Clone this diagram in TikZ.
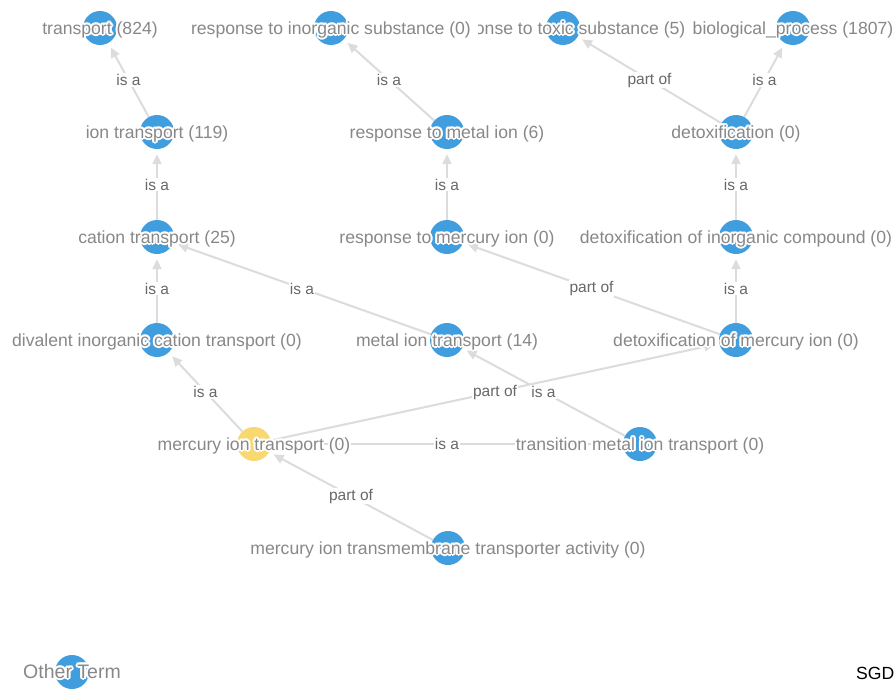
\documentclass[tikz,border=0pt]{standalone}
\usepackage{fontspec}
\setmainfont{Liberation Sans}
\usetikzlibrary{arrows.meta,calc}
\pgfdeclarelayer{bg}
\pgfsetlayers{bg,main}
\definecolor{termblue}{RGB}{64,157,222}
\definecolor{termyellow}{RGB}{248,216,112}
\definecolor{edgegray}{RGB}{220,220,220}
\definecolor{labelgray}{RGB}{136,136,136}
\definecolor{elabelgray}{RGB}{104,104,104}
\tikzset{
  term/.style={circle,fill=termblue,minimum size=34pt,inner sep=0pt},
  focus/.style={circle,fill=termyellow,minimum size=34pt,inner sep=0pt},
  lbl/.style={font=\fontsize{17.6}{17.6}\selectfont,text=labelgray,inner sep=0pt,text height=12.5pt,text depth=4pt,yshift=-2pt},
  elbl/.style={font=\fontsize{15.5}{15.5}\selectfont,text=elabelgray,fill=white,inner sep=1pt},
  edge/.style={draw=edgegray,line width=2pt,-{Triangle[length=10pt,width=9pt]},shorten >=5pt},
}
\newcommand\termlabel[4][]{%
  \foreach \ang in {0,30,...,330}{\node[lbl,#1,text=white] at ($(#3)+(\ang:2)$) {#4};}
  \node[lbl,#1] (#2) at (#3) {#4};}
\begin{document}
\begin{tikzpicture}[x=1pt,y=-1pt]
\begin{pgfonlayer}{bg}
\fill[white] (0,0) rectangle (896,688);
\end{pgfonlayer}
\useasboundingbox (0,0) rectangle (896,688);
% terms
\node[term] (tr) at (100,28) {};
\node[term] (ris) at (331,28) {};
\node[term] (rts) at (563,28) {};
\node[term] (bp) at (793,28) {};
\node[term] (it) at (157,132) {};
\node[term] (rmi) at (447,132) {};
\node[term] (dtx) at (736,132) {};
\node[term] (ct) at (157,237) {};
\node[term] (rhg) at (447,237) {};
\node[term] (dic) at (736,237) {};
\node[term] (div) at (157,340) {};
\node[term] (mit) at (447,340) {};
\node[term] (dhg) at (736,340) {};
\node[focus] (hgt) at (254,444) {};
\node[term] (tmit) at (640,444) {};
\node[term] (hgtt) at (448,548) {};
\node[term] (leg) at (72,672) {};
% connectors
\begin{pgfonlayer}{bg}
\draw[edge] (it) -- node[elbl]{is a} (tr);
\draw[edge] (rmi) -- node[elbl]{is a} (ris);
\draw[edge] (dtx) -- node[elbl]{part of} (rts);
\draw[edge] (dtx) -- node[elbl]{is a} (bp);
\draw[edge] (ct) -- node[elbl]{is a} (it);
\draw[edge] (rhg) -- node[elbl]{is a} (rmi);
\draw[edge] (dic) -- node[elbl]{is a} (dtx);
\draw[edge] (div) -- node[elbl]{is a} (ct);
\draw[edge] (mit) -- node[elbl]{is a} (ct);
\draw[edge] (dhg) -- node[elbl]{part of} (rhg);
\draw[edge] (dhg) -- node[elbl]{is a} (dic);
\draw[edge] (hgt) -- node[elbl]{is a} (div);
\draw[edge] (hgt) -- node[elbl]{part of} (dhg);
\draw[edge] (tmit) -- node[elbl]{is a} (mit);
\draw[edge] (hgt) -- node[elbl]{is a} (tmit);
\draw[edge] (hgtt) -- node[elbl]{part of} (hgt);
\end{pgfonlayer}
% labels
\termlabel{tr-l}{tr}{transport (824)}
\begin{scope}
\clip (478,0) rectangle (720,60);
\termlabel{rts-l}{rts}{response to toxic substance (5)}
\end{scope}
\termlabel{ris-l}{ris}{response to inorganic substance (0)}
\termlabel{bp-l}{bp}{biological\_process (1807)}
\termlabel{it-l}{it}{ion transport (119)}
\termlabel{rmi-l}{rmi}{response to metal ion (6)}
\termlabel{dtx-l}{dtx}{detoxification (0)}
\termlabel{ct-l}{ct}{cation transport (25)}
\termlabel{rhg-l}{rhg}{response to mercury ion (0)}
\termlabel{dic-l}{dic}{detoxification of inorganic compound (0)}
\termlabel{div-l}{div}{divalent inorganic cation transport (0)}
\termlabel{mit-l}{mit}{metal ion transport (14)}
\termlabel{dhg-l}{dhg}{detoxification of mercury ion (0)}
\termlabel{hgt-l}{hgt}{mercury ion transport (0)}
\termlabel{tmit-l}{tmit}{transition metal ion transport (0)}
\termlabel{hgtt-l}{hgtt}{mercury ion transmembrane transporter activity (0)}
\termlabel[font=\fontsize{19.5}{19.5}\selectfont]{leg-l}{leg}{Other Term}
\node[font=\fontsize{17.6}{17.6}\selectfont,anchor=west,inner sep=0pt] (sgd) at (856,673) {SGD};
\end{tikzpicture}
\end{document}
